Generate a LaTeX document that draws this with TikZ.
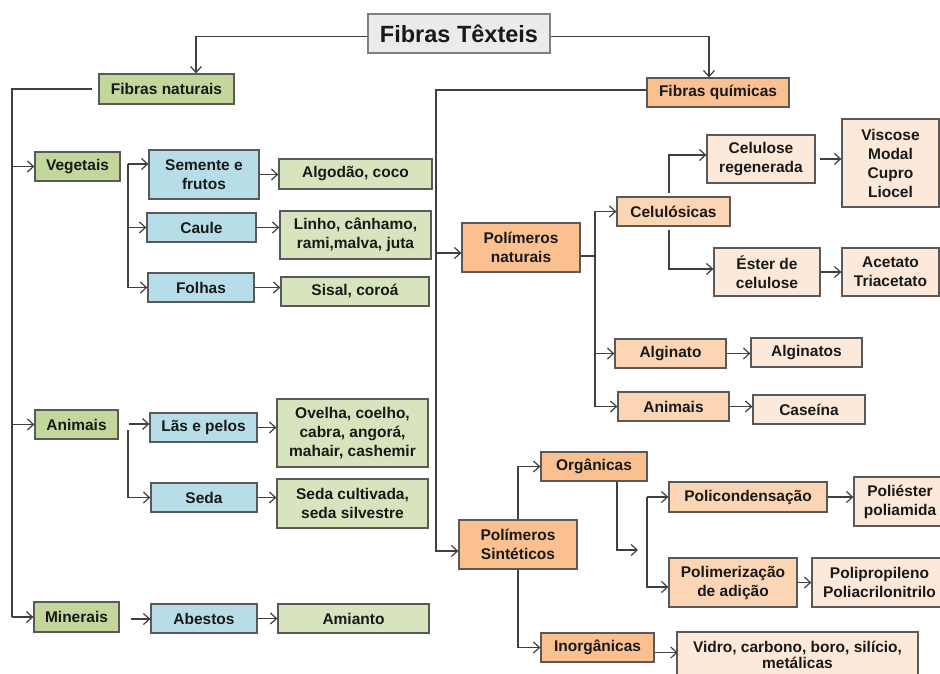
\documentclass[tikz,border=0pt]{standalone}
\usepackage{fontspec}
\setmainfont{Liberation Sans}
\usetikzlibrary{arrows.meta}
\definecolor{tgray}{HTML}{EBEBEB}
\definecolor{ngreen}{HTML}{C3D69B}
\definecolor{lgreen}{HTML}{D7E4BD}
\definecolor{nblue}{HTML}{B7DEE8}
\definecolor{qorange}{HTML}{FAC090}
\definecolor{morange}{HTML}{FCD5B5}
\definecolor{lorange}{HTML}{FDE9D9}
\definecolor{edgegray}{HTML}{595959}
\definecolor{linkgray}{HTML}{404040}
\begin{document}
\begin{tikzpicture}
        [x=1pt,y=-1pt,
         box/.style={draw=edgegray,line width=1.3pt,align=center,inner sep=0pt,
           text=black!90,font=\bfseries\fontsize{15.5}{19}\selectfont},
         sz/.style 2 args={minimum width=#1pt,minimum height=#2pt},
         tbox/.style={box,fill=tgray,draw=black!50,font=\bfseries\fontsize{23.5}{28}\selectfont},
         gbox/.style={box,fill=ngreen},
         lbox/.style={box,fill=lgreen},
         bbox/.style={box,fill=nblue},
         obox/.style={box,fill=qorange},
         mbox/.style={box,fill=morange},
         pbox/.style={box,fill=lorange},
         link/.style={draw=linkgray,line width=1.2pt},
         arr/.style={link,-{Straight Barb[length=6pt,width=11pt]}}]
        \useasboundingbox (0,0) rectangle (940,673);
        \clip (0,0) rectangle (940,673);

        \node[tbox,sz={182}{39}] (titulo) at (459,33.5) {Fibras Têxteis};

        \node[gbox,sz={135}{30}] (naturais) at (166.5,89) {Fibras naturais};
        \node[gbox,sz={85}{29}] (vegetais) at (77.5,166.5) {Vegetais};
        \node[bbox,sz={110}{49}] (semente) at (204,174.5) {Semente e\\frutos};
        \node[lbox,sz={153}{30}] (algodao) at (355.5,174) {Algodão, coco};
        \node[bbox,sz={109}{29}] (caule) at (201.5,227.5) {Caule};
        \node[lbox,sz={151}{48}] (linho) at (355.5,235) {Linho, cânhamo,\\rami,malva, juta};
        \node[bbox,sz={106}{29}] (folhas) at (201,287.5) {Folhas};
        \node[lbox,sz={148}{29}] (sisal) at (355,291.5) {Sisal, coroá};
        \node[gbox,sz={83}{29}] (animais) at (76.5,424.5) {Animais};
        \node[bbox,sz={107}{29}] (laes) at (203.5,427.5) {Lãs e pelos};
        \node[lbox,sz={151}{68}] (ovelha) at (352.5,433) {Ovelha, coelho,\\cabra, angorá,\\mahair, cashemir};
        \node[bbox,sz={106}{29}] (seda) at (204,497.5) {Seda};
        \node[lbox,sz={151}{49}] (cultivada) at (352.5,503.5) {Seda cultivada,\\seda silvestre};
        \node[gbox,sz={85}{30}] (minerais) at (76.5,617) {Minerais};
        \node[bbox,sz={106}{29}] (abestos) at (204,618.5) {Abestos};
        \node[lbox,sz={151}{29}] (amianto) at (353.5,618.5) {Amianto};

        \node[obox,sz={142}{29}] (quimicas) at (718,92.5) {Fibras químicas};
        \node[obox,sz={118}{49}] (polnat) at (521,247.5) {Polímeros\\naturais};
        \node[mbox,sz={113}{29}] (celulosicas) at (673.5,211.5) {Celulósicas};
        \node[pbox,sz={108}{48}] (regenerada) at (761,159) {Celulose\\regenerada};
        \node[pbox,sz={97}{88}] (viscose) at (890.5,163) {Viscose\\Modal\\Cupro\\Liocel};
        \node[pbox,sz={106}{48}] (ester) at (767,272) {Éster de\\celulose};
        \node[pbox,sz={97}{48}] (acetato) at (890.5,272) {Acetato\\Triacetato};
        \node[mbox,sz={111}{29}] (alginato) at (670.5,353.5) {Alginato};
        \node[pbox,sz={111}{29}] (alginatos) at (806.5,352.5) {Alginatos};
        \node[mbox,sz={111}{29}] (animaisq) at (673.5,406.5) {Animais};
        \node[pbox,sz={112}{29}] (caseina) at (809,409.5) {Caseína};
        \node[obox,sz={118}{49}] (polsin) at (518,544.5) {Polímeros\\Sintéticos};
        \node[obox,sz={106}{29}] (organicas) at (594,466.5) {Orgânicas};
        \node[mbox,sz={158}{30}] (policond) at (748,497) {Policondensação};
        \node[pbox,sz={92}{49}] (poliester) at (900,501.5) {Poliéster\\poliamida};
        \node[mbox,sz={128}{49}] (polimer) at (733,582.5) {Polimerização\\de adição};
        \node[pbox,sz={135}{49}] (polipro) at (879.5,582.5) {Polipropileno\\Poliacrilonitrilo};
        \node[obox,sz={113}{29}] (inorganicas) at (597.5,647.5) {Inorgânicas};
        \node[pbox,sz={241}{49}] (vidro) at (797.5,656.5) {Vidro, carbono, boro, silício,\\[-3pt]metálicas\vspace{4pt}};

        \draw[arr] ([yshift=-3pt]titulo.west) -| ([xshift=29.5pt]naturais.north);
        \draw[arr] ([yshift=-3pt]titulo.east) -| ([xshift=-9pt]quimicas.north);

        % fibras naturais
        \coordinate (tn) at (12,89);
        \draw[link] ([xshift=-6pt]naturais.west) -- (tn) -- (tn |- minerais.west);
        \draw[arr] (tn |- vegetais.west) -- (vegetais.west);
        \draw[arr] (tn |- animais.west) -- (animais.west);
        \draw[arr] (tn |- minerais.west) -- (minerais.west);

        \coordinate (bv) at (128,164);
        \draw[arr] (bv) -- (bv -| semente.west);
        \draw[arr] (bv) |- (caule.west);
        \draw[arr] (bv) |- (folhas.west);
        \draw[arr] (semente.east) -- (semente.east -| algodao.west);
        \draw[arr] (caule.east) -- (caule.east -| linho.west);
        \draw[arr] (folhas.east) -- (folhas.east -| sisal.west);

        \coordinate (ba) at (129,424);
        \coordinate (bs) at (128,430);
        \draw[arr] (ba) -- (ba -| laes.west);
        \draw[arr] (bs) |- (seda.west);
        \draw[arr] (laes.east) -- (laes.east -| ovelha.west);
        \draw[arr] (seda.east) -- (seda.east -| cultivada.west);

        \coordinate (bm) at (131,619);
        \draw[arr] (bm) -- (bm -| abestos.west);
        \draw[arr] (abestos.east) -- (abestos.east -| amianto.west);

        % fibras quimicas
        \coordinate (tq) at (436,90);
        \coordinate (jp) at (436,253);
        \draw[arr] (quimicas.west |- tq) -- (tq) |- ([yshift=-6.5pt]polsin.west);
        \draw[arr] (jp) -- (jp -| polnat.west);

        \coordinate (bp) at (595,256);
        \draw[link] (polnat.east |- bp) -- (bp);
        \draw[arr] (bp) |- (celulosicas.west);
        \draw[arr] (bp) |- (alginato.west);
        \draw[arr] (bp) |- (animaisq.west);

        \coordinate (cu) at (669,193);
        \coordinate (cd) at (669,230);
        \draw[arr] (cu) |- ([yshift=4pt]regenerada.west);
        \draw[arr] (cd) |- ([yshift=3pt]ester.west);
        \draw[arr] ([xshift=4pt]regenerada.east) -- (regenerada.east -| viscose.west);
        \draw[arr] (ester.east) -- (ester.east -| acetato.west);
        \draw[arr] (alginato.east) -- (alginato.east -| alginatos.west);
        \draw[arr] (animaisq.east) -- (animaisq.east -| caseina.west);

        \draw[arr] (polsin.north) |- (organicas.west);
        \draw[arr] (polsin.south) |- (inorganicas.west);
        \coordinate (oe) at (638,550);
        \draw[arr] ([xshift=23pt]organicas.south) |- (oe);
        \coordinate (bo) at (647,497);
        \draw[arr] (bo) -- (bo -| policond.west);
        \draw[arr] (bo) |- ([yshift=-4.5pt]polimer.west);
        \draw[arr] (policond.east) -- (policond.east -| poliester.west);
        \draw[arr] (polimer.east) -- (polimer.east -| polipro.west);
        \draw[arr] ([yshift=-5pt]inorganicas.east) -- ++(23,0);
      \end{tikzpicture}
\end{document}
